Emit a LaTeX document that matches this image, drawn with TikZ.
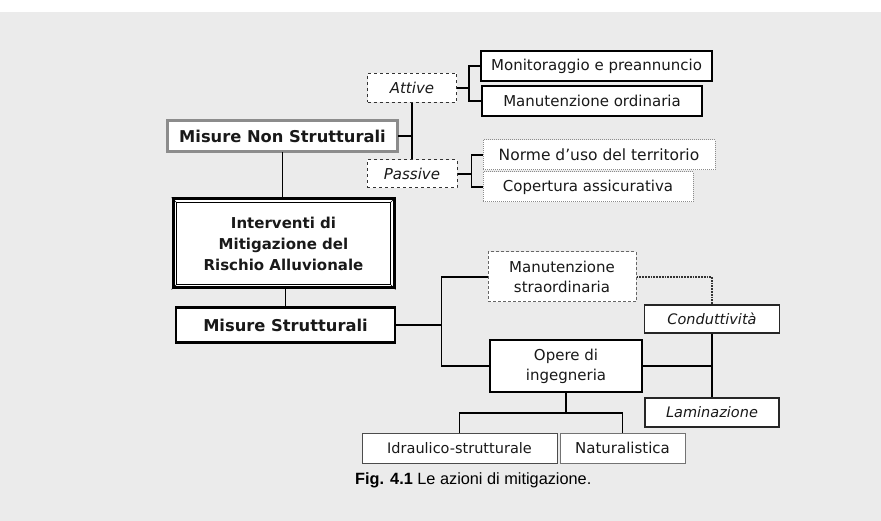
\documentclass[tikz,border=0pt]{standalone}
\usepackage{fontspec}
\setmainfont{DejaVu Sans}
\newfontfamily\capfont{Liberation Sans}
\begin{document}
\begin{tikzpicture}[x=1pt,y=-1pt,
  base/.style={rectangle, fill=white, inner sep=0pt, align=center, text=black!90, font=\fontsize{15}{20}\selectfont},
  solidbox/.style={base, draw=black, line width=2.2pt},
  thinbox/.style={base, draw=black!85, line width=1.2pt},
  dashbox/.style={base, draw=black!80, dashed, line width=1pt, font=\fontsize{15}{20}\selectfont\itshape},
  dotbox/.style={base, draw=black!45, densely dotted, line width=1pt},
  conn/.style={draw=black, line width=1.8pt},
  dotconn/.style={draw=black!80, densely dotted, line width=1.8pt}
]
\useasboundingbox (0,0) rectangle (881,521);
\fill[white] (0,0) rectangle (881,12);
\fill[black!8] (0,12) rectangle (881,521);

% non structural branch
\node[solidbox, minimum width=231, minimum height=30] (mon) at (596.5,66) {Monitoraggio e preannuncio};
\node[solidbox, minimum width=220, minimum height=30] (mord) at (592,101) {Manutenzione ordinaria};
\node[dashbox, minimum width=89, minimum height=29] (att) at (412,88) {Attive};
\node[dashbox, minimum width=90, minimum height=28] (pas) at (412,174) {Passive};
\node[dotbox, minimum width=232, minimum height=30, font=\fontsize{15.5}{20}\selectfont] (norme) at (599,155) {Norme d’uso del territorio};
\node[dotbox, minimum width=210, minimum height=30] (cop) at (588,187) {Copertura assicurativa};
\node[base, draw=black, double=black!45, double distance=2.4pt, line width=0.7pt,
      minimum width=230, minimum height=31, font=\fontsize{16.3}{20}\selectfont\bfseries] (mns) at (282.5,136) {Misure Non Strutturali};

% central
\node[base, draw=black, line width=3pt, minimum width=221, minimum height=89,
      font=\fontsize{15}{21}\selectfont\bfseries] (int) at (283.5,243.5) {Interventi di\\Mitigazione del\\Rischio Alluvionale};
\draw[black, line width=1.3pt] ([shift={(5,5)}]int.north west) rectangle ([shift={(-5,-5)}]int.south east);
\draw[black, line width=0.6pt] (int.north west) -- ([shift={(5,5)}]int.north west);
\draw[black, line width=0.6pt] (int.north east) -- ([shift={(-5,5)}]int.north east);
\draw[black, line width=0.6pt] (int.south west) -- ([shift={(5,-5)}]int.south west);
\draw[black, line width=0.6pt] (int.south east) -- ([shift={(-5,-5)}]int.south east);

\node[solidbox, minimum width=219, minimum height=35, font=\fontsize{16.3}{20}\selectfont\bfseries] (ms) at (285.5,325) {Misure Strutturali};

% structural branch
\node[base, draw=black!60, densely dashed, line width=1pt, minimum width=148, minimum height=50] (mstr) at (562,277) {Manutenzione\\straordinaria};
\node[thinbox, minimum width=135, minimum height=28, font=\fontsize{14.5}{20}\selectfont\itshape] (cond) at (712,319) {Conduttività};
\node[solidbox, minimum width=152, minimum height=52] (opere) at (566,366) {Opere di\\ingegneria};
\node[thinbox, minimum width=134, minimum height=29, font=\fontsize{14.5}{20}\selectfont\itshape] (lam) at (712,412.5) {Laminazione};
\node[base, draw=black!70, line width=0.9pt, minimum width=195, minimum height=30, font=\fontsize{14.5}{20}\selectfont] (idr) at (459.5,448) {Idraulico-strutturale};
\node[base, draw=black!55, line width=0.9pt, minimum width=125, minimum height=30] (nat) at (622.5,448) {Naturalistica};

\node[anchor=west, inner sep=0pt, font=\capfont\fontsize{16.3}{18}\selectfont] (cap) at (355,480) {\textbf{Fig. 4.1} Le azioni di mitigazione.};

% connectors
\draw[conn] (mon.west) -- ++(-11,0) coordinate (b1) -- (b1 |- mord.west) -- (mord.west);
\draw[conn] (att.east) -- (att.east -| b1);
\draw[conn] (att.south) -- (pas.north);
\draw[conn] (mns.east) -- (mns.east -| att.south);
\draw[conn] (norme.west) -- ++(-11,0) coordinate (b2) -- (b2 |- cop.west) -- (cop.west);
\draw[conn] (pas.east) -- (pas.east -| b2);
\draw[conn] (mns.south) -- (mns.south |- int.north);
\draw[conn] (int.south -| ms.north) -- (ms.north);
\draw[conn] (mstr.west) -- ++(-46,0) coordinate (b3) -- (b3 |- opere.west) -- (opere.west);
\draw[conn] (ms.east) -- (ms.east -| b3);
\draw[dotconn] (mstr.east) -| (cond.north);
\draw[conn] (cond.south) -- (lam.north);
\draw[conn] (opere.east) -- (opere.east -| cond.south);
\draw[conn] (opere.south) -- ++(0,20) coordinate (b4);
\draw[conn] (idr.north) |- (b4) -| (nat.north);
\end{tikzpicture}
\end{document}
